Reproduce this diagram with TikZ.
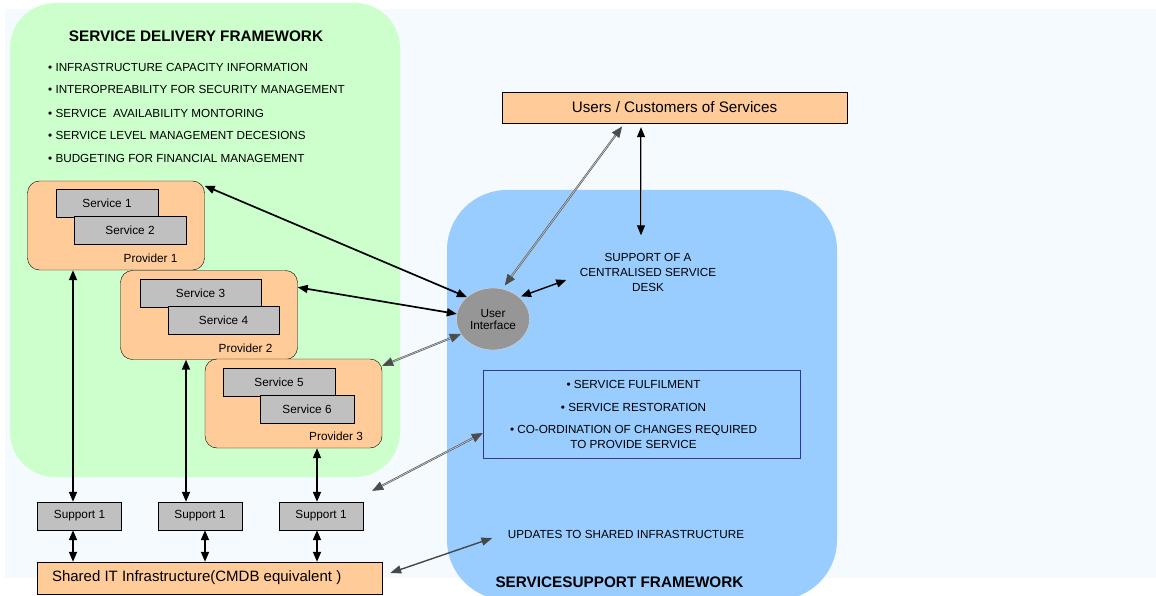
\documentclass[tikz,border=0pt]{standalone}
\usepackage{fontspec}
\setmainfont{Liberation Sans}
\usetikzlibrary{positioning,arrows.meta,shapes.geometric}
\definecolor{pagebg}{RGB}{245,250,255}
\definecolor{sdfgreen}{RGB}{204,255,204}
\definecolor{ssfblue}{RGB}{153,204,255}
\definecolor{peach}{RGB}{255,204,153}
\definecolor{svcgray}{RGB}{192,192,192}
\definecolor{uigray}{RGB}{150,150,150}
\definecolor{boxline}{RGB}{51,51,153}
\tikzset{
  small/.style={font=\fontsize{11.8}{13}\selectfont},
  caps/.style={font=\fontsize{11.7}{15}\selectfont},
  title/.style={font=\fontsize{15.3}{17}\selectfont\bfseries},
  svc/.style={draw,fill=svcgray,minimum height=28pt,inner sep=1pt,small},
  supp/.style={svc,minimum width=84pt},
  prov/.style={draw,fill=peach,rounded corners=12pt,minimum width=177pt,minimum height=89pt},
  bullet/.style={caps,anchor=west,inner sep=0pt},
  link/.style={{Triangle[length=10pt,width=8pt]}-{Triangle[length=10pt,width=8pt]},line width=1.7pt},
  thinlink/.style={link,line width=1.4pt},
  dbllink/.style={{Triangle[length=11pt,width=9pt]}-{Triangle[length=11pt,width=9pt]},
    draw=black!70,double=black!20,double distance=0.7pt,line width=0.6pt},
  greylink/.style={{Triangle[length=11pt,width=8pt]}-{Triangle[length=11pt,width=8pt]},
    draw=black!72,line width=1.4pt},
}

\begin{document}
\begin{tikzpicture}[x=1pt,y=-1pt]
  \useasboundingbox (0,0) rectangle (1156,596);
  % backgrounds
  \fill[pagebg] (5,9) rectangle (1156,578);
  \fill[sdfgreen,rounded corners=45pt] (10,3) rectangle (400,477);
  \fill[ssfblue,rounded corners=60pt] (447,190) rectangle (837,600);

  % service delivery framework
  \node[title] (sdf) at (196,36) {SERVICE DELIVERY FRAMEWORK};
  \node[bullet] (b1) at (48,67) {• INFRASTRUCTURE CAPACITY INFORMATION};
  \node[bullet] (b2) at (48,89) {• INTEROPREABILITY FOR SECURITY MANAGEMENT};
  \node[bullet] (b3) at (48,113) {• SERVICE\ \ AVAILABILITY MONTORING};
  \node[bullet] (b4) at (48,135) {• SERVICE LEVEL MANAGEMENT DECESIONS};
  \node[bullet] (b5) at (48,158) {• BUDGETING FOR FINANCIAL MANAGEMENT};

  % providers
  \node[prov] (p1) at (116,225.5) {};
  \node[svc,minimum width=102pt] (s1) at (107,203) {Service 1};
  \node[svc,minimum width=112pt] (s2) at (130,230) {Service 2};
  \node[small,above left=7pt and 27pt of p1.south east,inner sep=0pt] (p1l) {Provider 1};

  \node[prov] (p2) at (209,315) {};
  \node[svc,minimum width=121pt] (s3) at (200.5,293) {Service 3};
  \node[svc,minimum width=111pt] (s4) at (223.5,320) {Service 4};
  \node[small,above left=7pt and 25pt of p2.south east,inner sep=0pt] (p2l) {Provider 2};

  \node[prov] (p3) at (293.5,403.5) {};
  \node[svc,minimum width=112pt] (s5) at (279,382) {Service 5};
  \node[svc,minimum width=94pt] (s6) at (307,409) {Service 6};
  \node[small,above left=7pt and 19pt of p3.south east,inner sep=0pt] (p3l) {Provider 3};

  % supports and shared infrastructure
  \node[supp] (supa) at (79.5,516) {Support 1};
  \node[supp] (supb) at (200,516) {Support 1};
  \node[supp] (supc) at (321,516) {Support 1};
  \node[draw,fill=peach,minimum width=345pt,minimum height=32pt,inner sep=0pt] (shared) at (209.5,578) {};
  \node[anchor=west,inner sep=0pt,font=\fontsize{15}{17}\selectfont] (sharedl)
        at ([xshift=15pt]shared.west) {Shared IT Infrastructure(CMDB equivalent )};

  % service support side
  \node[draw,fill=peach,minimum width=345pt,minimum height=31pt,
        font=\fontsize{15.2}{17}\selectfont] (users) at (674.5,107.5) {Users / Customers of Services};
  \node[ellipse,fill=uigray,draw=white!85!black,minimum width=73pt,minimum height=62pt,
        inner sep=0pt,small,align=center] (ui) at (493,319) {User\\[-1pt]Interface};
  \node[caps,align=center] (desk) at (648,272) {SUPPORT OF A\\CENTRALISED SERVICE\\DESK};
  \node[draw=boxline,fill=ssfblue,minimum width=317pt,minimum height=88pt] (fulfil) at (641.5,414) {};
  \node[caps,align=center] (fulfill) at ([xshift=-8pt]fulfil.center)
        {• SERVICE FULFILMENT\\[8pt]• SERVICE RESTORATION\\[7pt]• CO-ORDINATION OF CHANGES REQUIRED\\TO PROVIDE SERVICE};
  \node[caps] (upd) at (626,534) {UPDATES TO SHARED INFRASTRUCTURE};
  \node[title] (ssf) at (619.5,582) {SERVICESUPPORT FRAMEWORK};

  % provider to support
  \draw[link] ([xshift=-6.5pt]supa.north |- p1.south) -- ([xshift=-6.5pt]supa.north);
  \draw[link] ([xshift=-14pt]supb.north |- p2.south) -- ([xshift=-14pt]supb.north);
  \draw[link] ([xshift=-4pt]supc.north |- p3.south) -- ([xshift=-4pt]supc.north);
  % support to shared
  \draw[link] ([xshift=-6.5pt]supa.south) -- ([xshift=-6.5pt]supa.south |- shared.north);
  \draw[link] ([xshift=5pt]supb.south) -- ([xshift=5pt]supb.south |- shared.north);
  \draw[link] ([xshift=-4pt]supc.south) -- ([xshift=-4pt]supc.south |- shared.north);

  % user interface links
  \draw[link] (ui.140) -- ([yshift=-5pt]p1.north east);
  \draw[link] (ui.172) -- ([yshift=-17pt]p2.north east);
  \draw[dbllink] (ui.205) -- ([yshift=-7pt]p3.north east);
  \draw[dbllink,shorten <=3pt,shorten >=4pt] ([xshift=10pt]ui.north) -- ([xshift=-50pt]users.south);
  \draw[thinlink,shorten <=2pt] (ui.40) -- ([xshift=-10pt,yshift=-8pt]desk.west);
  \draw[link,double=black!35,double distance=0.8pt,line width=1pt,shorten <=4pt,shorten >=14pt]
        ([xshift=-7pt]desk.north |- users.south) -- ([xshift=-7pt]desk.north);

  % service support links
  \draw[dbllink] ([shift={(9pt,11pt)}]supc.north east) -- ([yshift=-19pt]fulfil.west);
  \draw[greylink] ([shift={(8pt,5pt)}]shared.east) -- ([shift={(-12pt,-4pt)}]upd.west);
\end{tikzpicture}
\end{document}
